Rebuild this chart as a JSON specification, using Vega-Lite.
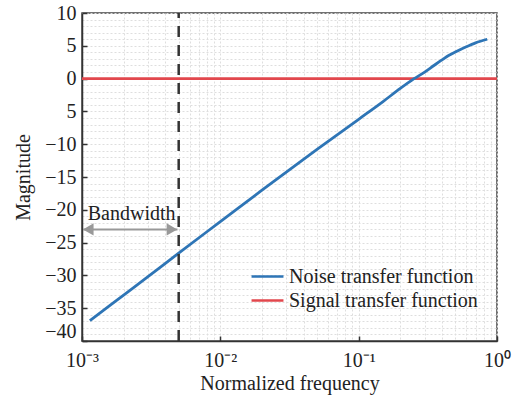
{
  "$schema": "https://vega.github.io/schema/vega-lite/v6.json",
  "autosize": "none",
  "width": 415,
  "height": 328,
  "padding": {"left": 82, "top": 13, "right": 20, "bottom": 57},
  "background": "white",
  "config": {
    "view": {"stroke": "#444", "strokeWidth": 1.5},
    "font": "Liberation Serif"
  },
  "datasets": {
    "curves": [
      {"f": 0.001, "mag": 0, "series": "Signal transfer function"},
      {"f": 1, "mag": 0, "series": "Signal transfer function"},
      {"f": 0.00114, "mag": -36.9, "series": "Noise transfer function"},
      {"f": 0.0015, "mag": -35.0, "series": "Noise transfer function"},
      {"f": 0.002, "mag": -33.0, "series": "Noise transfer function"},
      {"f": 0.003, "mag": -30.2, "series": "Noise transfer function"},
      {"f": 0.005, "mag": -26.6, "series": "Noise transfer function"},
      {"f": 0.01, "mag": -21.8, "series": "Noise transfer function"},
      {"f": 0.02, "mag": -17.0, "series": "Noise transfer function"},
      {"f": 0.05, "mag": -10.8, "series": "Noise transfer function"},
      {"f": 0.1, "mag": -6.2, "series": "Noise transfer function"},
      {"f": 0.15, "mag": -3.5, "series": "Noise transfer function"},
      {"f": 0.2, "mag": -1.5, "series": "Noise transfer function"},
      {"f": 0.25, "mag": -0.05, "series": "Noise transfer function"},
      {"f": 0.3, "mag": 1.0, "series": "Noise transfer function"},
      {"f": 0.35, "mag": 2.0, "series": "Noise transfer function"},
      {"f": 0.4, "mag": 2.85, "series": "Noise transfer function"},
      {"f": 0.45, "mag": 3.55, "series": "Noise transfer function"},
      {"f": 0.5, "mag": 4.05, "series": "Noise transfer function"},
      {"f": 0.6, "mag": 4.85, "series": "Noise transfer function"},
      {"f": 0.7, "mag": 5.45, "series": "Noise transfer function"},
      {"f": 0.85, "mag": 6.0, "series": "Noise transfer function"}
    ],
    "bandline": [{"f": 0.005, "mag": -40, "mag2": 10}],
    "arrow": [{"f": 0.00102, "f2": 0.0049, "mag": -23}],
    "heads": [
      {"f": 0.00111, "mag": -23, "dir": "left"},
      {"f": 0.00447, "mag": -23, "dir": "right"}
    ],
    "label": [{"f": 0.0011, "mag": -20.6, "text": "Bandwidth"}]
  },
  "encoding": {
    "x": {
      "field": "f", "type": "quantitative",
      "scale": {"type": "log", "domain": [0.001, 1], "nice": false},
      "axis": {
        "title": "Normalized frequency",
        "titleFont": "Liberation Serif", "titleFontSize": 20, "titleFontWeight": "normal", "titleColor": "#222",
        "titlePadding": 3,
        "values": [0.001,0.002,0.003,0.004,0.005,0.006,0.007,0.008,0.009,0.01,0.02,0.03,0.04,0.05,0.06,0.07,0.08,0.09,0.1,0.2,0.3,0.4,0.5,0.6,0.7,0.8,0.9,1],
        "labelExpr": "datum.value == 0.001 ? '10⁻³' : datum.value == 0.01 ? '10⁻²' : datum.value == 0.1 ? '10⁻¹' : datum.value == 1 ? '10⁰' : ''",
        "labelFont": "Liberation Serif", "labelFontSize": 20, "labelColor": "#222",
        "labelFlush": false, "labelOverlap": false, "labelBound": false,
        "labelPadding": 14,
        "grid": true, "gridColor": "#dedede", "gridDash": [2, 2], "gridWidth": 1,
        "domainColor": "#333", "domainWidth": 1.5,
        "tickColor": "#333", "tickWidth": 1.5, "tickSize": -5,
        "tickOpacity": {"condition": {"test": "datum.value == 0.001 || datum.value == 0.01 || datum.value == 0.1 || datum.value == 1", "value": 1}, "value": 0}
      }
    },
    "y": {
      "field": "mag", "type": "quantitative",
      "scale": {"domain": [-40, 10], "nice": false},
      "axis": {
        "title": "Magnitude",
        "titleFont": "Liberation Serif", "titleFontSize": 20, "titleFontWeight": "normal", "titleColor": "#222",
        "titlePadding": 11,
        "values": [-40,-39,-38,-37,-36,-35,-34,-33,-32,-31,-30,-29,-28,-27,-26,-25,-24,-23,-22,-21,-20,-19,-18,-17,-16,-15,-14,-13,-12,-11,-10,-9,-8,-7,-6,-5,-4,-3,-2,-1,0,1,2,3,4,5,6,7,8,9,10],
        "labelExpr": "(datum.value % 5 == 0) ? (datum.value == -5 ? '5' : datum.label) : ''",
        "labelFont": "Liberation Serif", "labelFontSize": 20, "labelColor": "#222",
        "labelOverlap": false, "labelBound": false, "labelFlush": false,
        "labelBaseline": {"condition": {"test": "datum.value == -40", "value": "bottom"}, "value": "middle"},
        "labelPadding": 11,
        "grid": true, "gridColor": "#dedede", "gridDash": [2, 2], "gridWidth": 1,
        "domainColor": "#333", "domainWidth": 1.5,
        "tickColor": "#333", "tickWidth": 1.5, "tickSize": -5,
        "tickOpacity": {"condition": {"test": "datum.value % 5 == 0", "value": 1}, "value": 0}
      }
    }
  },
  "layer": [
    {
      "data": {"name": "curves"},
      "mark": {"type": "line", "strokeWidth": 2.8, "interpolate": "monotone"},
      "encoding": {
        "color": {
          "field": "series", "type": "nominal",
          "scale": {"domain": ["Noise transfer function", "Signal transfer function"], "range": ["#2e75b6", "#e2474d"]},
          "legend": {
            "title": null,
            "orient": "none", "legendX": 172, "legendY": 250,
            "symbolType": "M-1.33,0H1.33", "symbolSize": 576, "symbolStrokeWidth": 2.5,
            "labelFont": "Liberation Serif", "labelFontSize": 20, "labelColor": "#222", "labelLimit": 400,
            "labelOffset": 8, "rowPadding": 0, "padding": 0
          }
        }
      }
    },
    {
      "data": {"name": "bandline"},
      "mark": {"type": "rule", "color": "#333", "strokeWidth": 2.5, "strokeDash": [11, 8]},
      "encoding": {
        "y2": {"field": "mag2"}
      }
    },
    {
      "data": {"name": "arrow"},
      "mark": {"type": "rule", "color": "#999", "strokeWidth": 2},
      "encoding": {
        "x2": {"field": "f2"}
      }
    },
    {
      "data": {"name": "heads"},
      "mark": {"type": "point", "filled": true, "color": "#999", "opacity": 1, "size": 150},
      "encoding": {
        "shape": {"field": "dir", "type": "nominal", "scale": {"domain": ["left", "right"], "range": ["triangle-left", "triangle-right"]}, "legend": null}
      }
    },
    {
      "data": {"name": "label"},
      "mark": {"type": "text", "font": "Liberation Serif", "fontSize": 20, "color": "#222", "align": "left", "baseline": "middle"},
      "encoding": {
        "text": {"field": "text"}
      }
    }
  ]
}
